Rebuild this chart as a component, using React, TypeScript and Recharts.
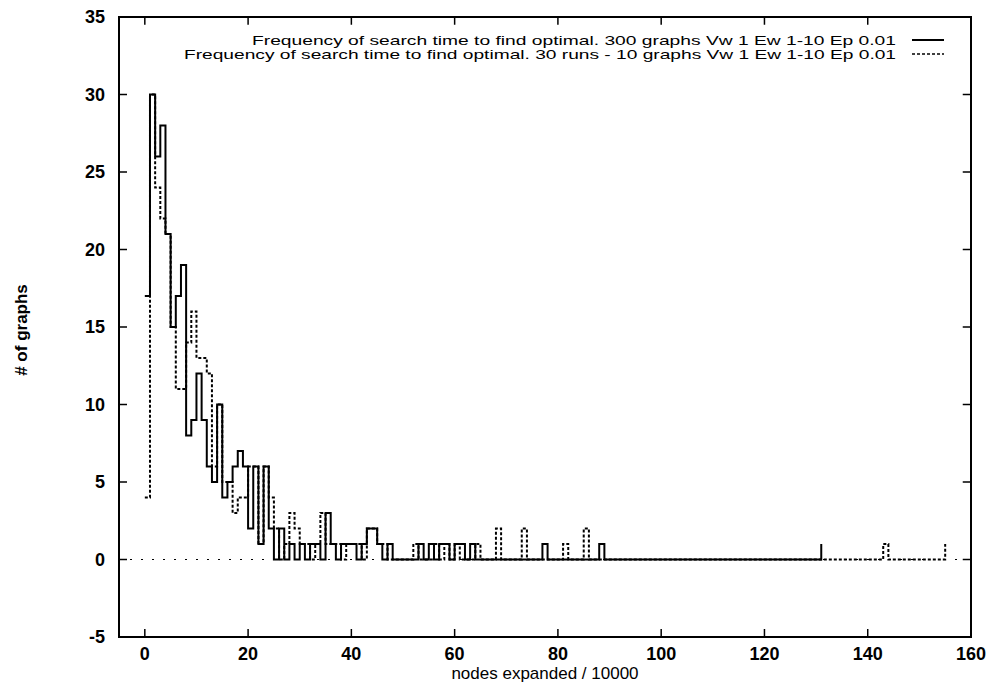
import { LineChart, Line, XAxis, YAxis, ReferenceLine, ReferenceArea } from 'recharts';

// frequency per bin (bin = 10000 nodes expanded)
const solidCounts = [
  17, 30, 26, 28, 21, 15, 17, 19, 8, 9,
  12, 9, 6, 5, 10, 4, 5, 6, 7, 6,
  2, 6, 1, 6, 2, 0, 2, 0, 1, 0,
  1, 0, 1, 1, 0, 3, 1, 0, 1, 1,
  1, 0, 1, 2, 2, 1, 0, 1, 0, 0,
  0, 0, 0, 1, 0, 1, 0, 1, 1, 0,
  1, 1, 0, 1, 0, 0, 0, 0, 0, 0,
  0, 0, 0, 0, 0, 0, 0, 1, 0, 0,
  0, 0, 0, 0, 0, 0, 0, 0, 1, 0,
  0, 0, 0, 0, 0, 0, 0, 0, 0, 0,
  0, 0, 0, 0, 0, 0, 0, 0, 0, 0,
  0, 0, 0, 0, 0, 0, 0, 0, 0, 0,
  0, 0, 0, 0, 0, 0, 0, 0, 0, 0,
  0, 1,
];

const dashedCounts = [
  4, 30, 24, 22, 21, 15, 11, 11, 14, 16,
  13, 13, 12, 6, 10, 5, 5, 3, 4, 4,
  6, 6, 1, 6, 4, 2, 0, 1, 3, 2,
  1, 1, 0, 1, 3, 1, 1, 1, 0, 1,
  1, 1, 0, 2, 2, 1, 1, 0, 0, 0,
  0, 0, 1, 0, 0, 0, 1, 0, 1, 0,
  1, 0, 0, 0, 1, 0, 0, 0, 2, 0,
  0, 0, 0, 2, 0, 0, 0, 0, 0, 0,
  0, 1, 0, 0, 0, 2, 0, 0, 0, 0,
  0, 0, 0, 0, 0, 0, 0, 0, 0, 0,
  0, 0, 0, 0, 0, 0, 0, 0, 0, 0,
  0, 0, 0, 0, 0, 0, 0, 0, 0, 0,
  0, 0, 0, 0, 0, 0, 0, 0, 0, 0,
  0, 0, 0, 0, 0, 0, 0, 0, 0, 0,
  0, 0, 0, 1, 0, 0, 0, 0, 0, 0,
  0, 0, 0, 0, 0, 1,
];

const xTicks = [0, 20, 40, 60, 80, 100, 120, 140, 160];
const yTicks = [-5, 0, 5, 10, 15, 20, 25, 30, 35];

const legendLabels = [
  'Frequency of search time to find optimal. 300 graphs Vw 1 Ew 1-10 Ep 0.01',
  'Frequency of search time to find optimal. 30 runs - 10 graphs Vw 1 Ew 1-10 Ep 0.01',
];

const X_MIN = -5;
const X_MAX = 160;
const Y_MIN = -5;
const Y_MAX = 35;

const solidData = solidCounts.map((y, x) => ({ x, y }));
const dashedData = dashedCounts.map((y, x) => ({ x, y }));

const FONT = '"Liberation Sans", Arial, Helvetica, sans-serif';
const tickStyle = { fill: '#000', fontSize: 18, fontWeight: 'bold' as const, fontFamily: FONT };

function YTitle() {
  return (
    <text
      transform="translate(21,330) rotate(-90)"
      textAnchor="middle"
      dominantBaseline="central"
      fontFamily={FONT}
      fontSize={17}
      fontWeight="bold"
      fill="#000">
      # of graphs
    </text>
  );
}

export default function App() {
  return (
    <div style={{ position: 'absolute', left: 0, top: 0, width: 991, height: 686, background: '#fff' }}>
      <LineChart
        width={991}
        height={686}
        margin={{ top: 17, right: 20, bottom: 0, left: 0 }}>
        <XAxis
          xAxisId="b"
          type="number"
          dataKey="x"
          domain={[X_MIN, X_MAX]}
          ticks={xTicks}
          allowDataOverflow
          height={49}
          tickSize={-8}
          tickMargin={18}
          tick={tickStyle}
          axisLine={{ stroke: '#000', strokeWidth: 2 }}
          tickLine={{ stroke: '#000', strokeWidth: 1.5 }}
          label={{
            value: 'nodes expanded / 10000',
            position: 'insideBottom',
            offset: 7,
            fill: '#000',
            fontSize: 17,
            fontFamily: FONT,
          }}
        />
        <YAxis
          yAxisId="l"
          type="number"
          domain={[Y_MIN, Y_MAX]}
          ticks={yTicks}
          allowDataOverflow
          width={119}
          tickSize={-8}
          tickMargin={22}
          tick={tickStyle}
          axisLine={{ stroke: '#000', strokeWidth: 2 }}
          tickLine={{ stroke: '#000', strokeWidth: 1.5 }}
          label={{ content: () => <YTitle /> }}
        />
        {/* plot frame and the mirrored ticks on top / right */}
        <ReferenceArea
          xAxisId="b"
          yAxisId="l"
          x1={X_MIN}
          x2={X_MAX}
          y1={Y_MIN}
          y2={Y_MAX}
          fill="none"
          fillOpacity={0}
          stroke="#000"
          strokeWidth={2}
          ifOverflow="visible"
        />
        {xTicks.map((t) => (
          <ReferenceLine
            key={`tx${t}`}
            xAxisId="b"
            yAxisId="l"
            segment={[{ x: t, y: Y_MAX }, { x: t, y: Y_MAX - 0.5 }]}
            stroke="#000"
            strokeWidth={1.5}
            ifOverflow="visible"
          />
        ))}
        {yTicks.map((t) => (
          <ReferenceLine
            key={`ty${t}`}
            xAxisId="b"
            yAxisId="l"
            segment={[{ x: X_MAX, y: t }, { x: X_MAX - 1.6, y: t }]}
            stroke="#000"
            strokeWidth={1.5}
            ifOverflow="visible"
          />
        ))}
        <ReferenceLine
          xAxisId="b"
          yAxisId="l"
          y={0}
          stroke="#000"
          strokeWidth={1}
          strokeDasharray="2 9"
        />
        <Line
          xAxisId="b"
          yAxisId="l"
          data={dashedData}
          dataKey="y"
          type="stepAfter"
          stroke="#000"
          strokeWidth={2}
          strokeDasharray="3 2"
          dot={false}
          isAnimationActive={false}
        />
        <Line
          xAxisId="b"
          yAxisId="l"
          data={solidData}
          dataKey="y"
          type="stepAfter"
          stroke="#000"
          strokeWidth={2}
          dot={false}
          isAnimationActive={false}
        />
      </LineChart>
      <svg
        width={991}
        height={686}
        style={{ position: 'absolute', left: 0, top: 0, pointerEvents: 'none' }}>
        {legendLabels.map((label, i) => (
          <g key={label}>
            <text
              x={896}
              y={40 + i * 14}
              textAnchor="end"
              dominantBaseline="central"
              fontFamily={FONT}
              fontSize={13}
              textLength={i === 0 ? 644 : 712}
              lengthAdjust="spacingAndGlyphs"
              fill="#000">
              {label}
            </text>
            <line
              x1={912}
              x2={944}
              y1={40 + i * 14}
              y2={40 + i * 14}
              stroke="#000"
              strokeWidth={i === 0 ? 2 : 1.5}
              strokeDasharray={i === 0 ? undefined : '3 2'}
            />
          </g>
        ))}
      </svg>
    </div>
  );
}
